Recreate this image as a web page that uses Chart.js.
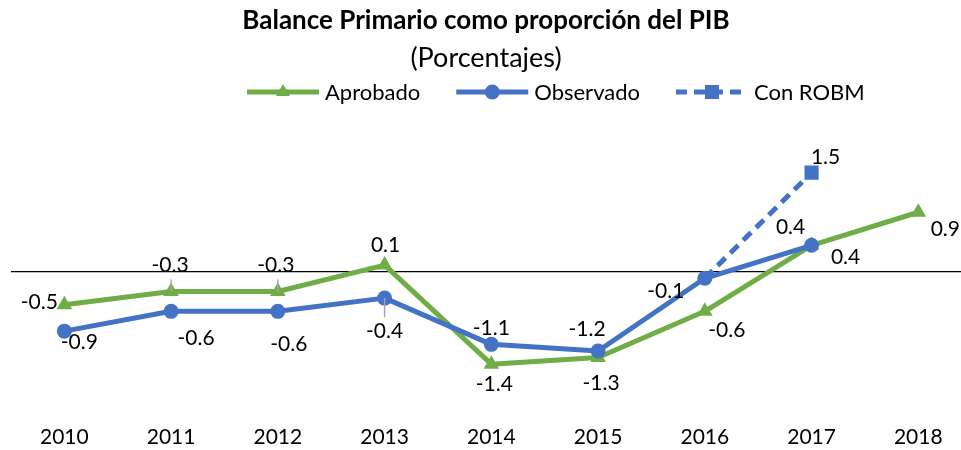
<!DOCTYPE html>
<html>
<head>
<meta charset="utf-8">
<script src="https://cdn.jsdelivr.net/npm/chart.js"></script>
<style>
  body { margin: 0; background: #fff; }
  canvas { display: block; }
</style>
</head>
<body>
<canvas id="chart-1" width="961" height="450"></canvas>
<script>
// data
const years = [2010, 2011, 2012, 2013, 2014, 2015, 2016, 2017, 2018];
const aprobado = [-0.5, -0.3, -0.3, 0.1, -1.4, -1.3, -0.6, 0.4, 0.9];
const observado = [-0.9, -0.6, -0.6, -0.4, -1.1, -1.2, -0.1, 0.4, null];
const conRobm = [null, null, null, null, null, null, -0.1, 1.5, null];

// where each value label sits, relative to its point (dx, dy); a third item draws a leader line
const aprobadoLabelPos = [[-25, -2], [-1, -26, true], [-2, -26, true], [1, -20], [3, 20], [3, 26], [22, 19], [34, 12], [27, 17]];
const observadoLabelPos = [[15, 11], [25, 27], [11, 33], [0, 33, true], [0, -16], [-11, -22], [-39, 13], [-21, -18], null];
const conRobmLabelPos = [null, null, null, null, null, null, null, [14, -15], null];

const green = '#70AD47';
const blue = '#4472C4';
const font = 'Lato';

function points(values) {
  return years.map((y, i) => ({ x: y, y: values[i] }));
}

function drawMarker(ctx, style, x, y, color) {
  ctx.fillStyle = color;
  ctx.beginPath();
  if (style === 'triangle') {
    const r = 8;
    ctx.moveTo(x, y - r);
    ctx.lineTo(x + r * 0.866, y + r * 0.5);
    ctx.lineTo(x - r * 0.866, y + r * 0.5);
    ctx.closePath();
  } else if (style === 'circle') {
    ctx.arc(x, y, 7.5, 0, Math.PI * 2);
  } else {
    ctx.rect(x - 7, y - 7, 14, 14);
  }
  ctx.fill();
}

// value labels next to the points
const valueLabels = {
  id: 'valueLabels',
  afterDatasetsDraw(chart) {
    const ctx = chart.ctx;
    ctx.save();
    ctx.font = '21px ' + font;
    ctx.textAlign = 'center';
    ctx.textBaseline = 'middle';
    chart.data.datasets.forEach((ds, i) => {
      const meta = chart.getDatasetMeta(i);
      meta.data.forEach((pt, j) => {
        const v = ds.data[j].y;
        const off = ds.labelPos[j];
        if (v === null || !off) return;
        if (off[2]) {
          // small grey leader line between label and point
          const end = pt.y + off[1] + (off[1] < 0 ? 14 : -14);
          ctx.strokeStyle = '#a6a6a6';
          ctx.lineWidth = 1.5;
          ctx.beginPath();
          ctx.moveTo(pt.x, pt.y);
          ctx.lineTo(pt.x, end);
          ctx.stroke();
        }
        ctx.fillStyle = '#000';
        ctx.fillText(v.toFixed(1), pt.x + off[0], pt.y + off[1]);
      });
    });
    ctx.restore();
  }
};

// legend: line with marker, then the name
const lineLegend = {
  id: 'lineLegend',
  afterDraw(chart) {
    const ctx = chart.ctx;
    const y = 92;
    let x = 247;
    ctx.save();
    ctx.font = '22px ' + font;
    ctx.textBaseline = 'middle';
    chart.data.datasets.forEach(ds => {
      ctx.strokeStyle = ds.borderColor;
      ctx.lineWidth = 5;
      ctx.setLineDash(ds.borderDash || []);
      ctx.beginPath();
      ctx.moveTo(x, y);
      ctx.lineTo(x + 72, y);
      ctx.stroke();
      ctx.setLineDash([]);
      drawMarker(ctx, ds.pointStyle, x + 36, y, ds.borderColor);
      ctx.fillStyle = '#000';
      ctx.fillText(ds.label, x + 78, y + 1);
      x += 78 + ctx.measureText(ds.label).width + 36;
    });
    ctx.restore();
  }
};

new Chart(document.querySelector('#chart-1'), {
  type: 'line',
  data: {
    datasets: [
      {
        label: 'Aprobado',
        data: points(aprobado),
        labelPos: aprobadoLabelPos,
        borderColor: green,
        backgroundColor: green,
        borderWidth: 5,
        pointStyle: 'triangle',
        pointRadius: 9,
        pointBorderWidth: 0,
        pointBackgroundColor: green,
        order: 2
      },
      {
        label: 'Observado',
        data: points(observado),
        labelPos: observadoLabelPos,
        borderColor: blue,
        backgroundColor: blue,
        borderWidth: 5,
        pointStyle: 'circle',
        pointRadius: 7.5,
        pointBorderWidth: 0,
        pointBackgroundColor: blue,
        order: 1
      },
      {
        label: 'Con ROBM',
        data: points(conRobm),
        labelPos: conRobmLabelPos,
        borderColor: blue,
        backgroundColor: blue,
        borderWidth: 5,
        borderDash: [11, 7],
        pointStyle: 'rect',
        pointRadius: ctx => (ctx.dataIndex === 7 ? 10 : 0),
        pointBorderWidth: 0,
        pointBackgroundColor: blue,
        order: 0
      }
    ]
  },
  options: {
    responsive: false,
    animation: false,
    devicePixelRatio: 1,
    layout: { autoPadding: false, padding: { left: 11, right: 0, top: 0, bottom: 0 } },
    elements: { line: { tension: 0, borderJoinStyle: 'round' } },
    plugins: {
      legend: { display: false },
      tooltip: { enabled: false },
      title: {
        display: true,
        text: 'Balance Primario como proporción del PIB',
        color: '#000',
        font: { family: font, size: 26, weight: 'bold' },
        padding: { top: 5, bottom: 0 }
      },
      subtitle: {
        display: true,
        text: '(Porcentajes)',
        color: '#000',
        font: { family: font, size: 27 },
        padding: { top: 6, bottom: 65 }
      }
    },
    scales: {
      x: {
        type: 'linear',
        min: 2009.5,
        max: 2018.4,
        afterBuildTicks: scale => { scale.ticks = years.map(v => ({ value: v })); },
        afterFit: scale => { scale.height = 33; },
        grid: { display: false, drawTicks: false },
        border: { display: false },
        ticks: {
          color: '#000',
          font: { family: font, size: 21 },
          padding: 8,
          autoSkip: false,
          maxRotation: 0,
          callback: v => String(v)
        }
      },
      y: {
        min: -2.2,
        max: 2.0,
        afterBuildTicks: scale => { scale.ticks = [{ value: 0 }]; },
        grid: { color: '#000', lineWidth: 1.3, drawTicks: false },
        border: { display: false },
        ticks: { display: false }
      }
    }
  },
  plugins: [valueLabels, lineLegend]
});
</script>
</body>
</html>
